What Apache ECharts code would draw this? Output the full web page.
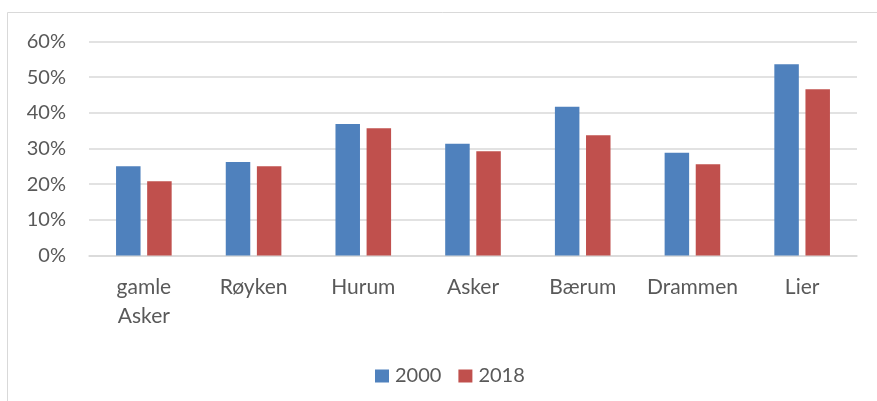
<!DOCTYPE html>
<html>
<head>
<meta charset="utf-8">
<script src="https://cdn.jsdelivr.net/npm/echarts@6/dist/echarts.min.js"></script>
<style>
html,body{margin:0;padding:0;background:#fff;}
#c{width:877px;height:401px;}
</style>
</head>
<body>
<div id="c"></div>
<script>
var categories = ['gamle\nAsker', 'Røyken', 'Hurum', 'Asker', 'Bærum', 'Drammen', 'Lier'];
var values2000 = [25.0, 26.2, 36.9, 31.3, 41.7, 28.8, 53.6];
var values2018 = [20.8, 25.0, 35.7, 29.2, 33.7, 25.6, 46.6];
var seriesNames = ['2000', '2018'];
var yTicks = [0, 10, 20, 30, 40, 50, 60];

var FONT = 'Lato';
var TXT = '#595959';
var chart = echarts.init(document.getElementById('c'), null, {renderer: 'canvas'});
chart.setOption({
  animation: false,
  backgroundColor: '#fff',
  graphic: [{
    type: 'rect',
    shape: {x: 7.5, y: 12.5, width: 900, height: 420},
    style: {fill: 'none', stroke: '#d9d9d9', lineWidth: 1},
    silent: true
  }],
  grid: {left: 89, right: 20, top: 41.5, bottom: 145.5, containLabel: false},
  legend: {
    data: seriesNames,
    left: 370,
    top: 361,
    padding: 5,
    itemWidth: 14,
    itemHeight: 13,
    itemGap: 17,
    icon: 'rect',
    textStyle: {color: TXT, fontFamily: FONT, fontSize: 20, padding: [0, 0, 0, 1]}
  },
  xAxis: {
    type: 'category',
    data: categories,
    axisLine: {show: true, lineStyle: {color: '#d9d9d9', width: 1.5}},
    axisTick: {show: false},
    axisLabel: {color: TXT, fontFamily: FONT, fontSize: 21, lineHeight: 29, margin: 17, interval: 0}
  },
  yAxis: {
    type: 'value',
    min: yTicks[0],
    max: yTicks[yTicks.length - 1],
    interval: 10,
    axisLine: {show: false},
    axisTick: {show: false},
    splitLine: {lineStyle: {color: '#d9d9d9', width: 1.5}},
    axisLabel: {color: TXT, fontFamily: FONT, fontSize: 20, margin: 23, formatter: function (v) { return v + '%'; }}
  },
  series: [
    {name: seriesNames[0], type: 'bar', data: values2000, barWidth: 24.5, barGap: '27%',
     itemStyle: {color: '#4F81BD'}},
    {name: seriesNames[1], type: 'bar', data: values2018, barWidth: 24.5, barGap: '27%',
     itemStyle: {color: '#C0504D'}}
  ]
});
</script>
</body>
</html>
